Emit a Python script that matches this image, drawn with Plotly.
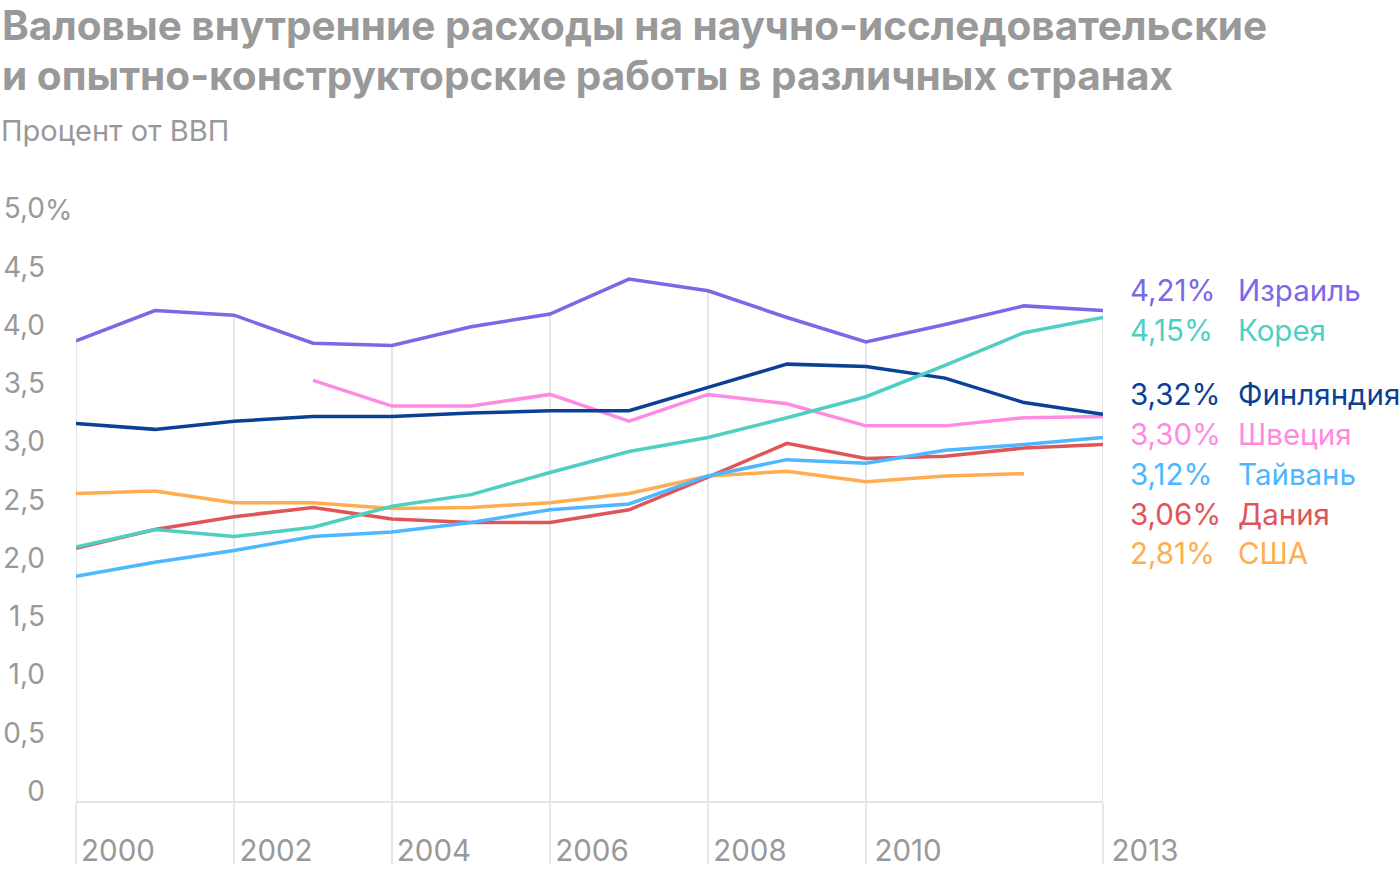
import plotly.graph_objects as go

years = list(range(2000, 2014))

israel = [3.95, 4.21, 4.17, 3.93, 3.91, 4.07, 4.18, 4.48, 4.38, 4.15, 3.94, 4.09, 4.25, 4.21]
korea = [2.18, 2.33, 2.27, 2.35, 2.53, 2.63, 2.82, 3.00, 3.12, 3.29, 3.47, 3.74, 4.02, 4.15]
finland = [3.24, 3.19, 3.26, 3.30, 3.30, 3.33, 3.35, 3.35, 3.55, 3.75, 3.73, 3.63, 3.42, 3.32]
sweden = [None, None, None, 3.61, 3.39, 3.39, 3.49, 3.26, 3.49, 3.41, 3.22, 3.22, 3.29, 3.30]
taiwan = [1.93, 2.05, 2.15, 2.27, 2.31, 2.39, 2.50, 2.55, 2.79, 2.93, 2.90, 3.01, 3.06, 3.12]
denmark = [2.17, 2.33, 2.44, 2.52, 2.42, 2.39, 2.39, 2.50, 2.78, 3.07, 2.94, 2.96, 3.03, 3.06]
usa = [2.64, 2.66, 2.56, 2.56, 2.51, 2.52, 2.56, 2.64, 2.79, 2.83, 2.74, 2.79, 2.81, None]

names = ["Израиль", "Корея", "Финляндия", "Швеция", "Тайвань", "Дания", "США"]
last_labels = ["4,21%", "4,15%", "3,32%", "3,30%", "3,12%", "3,06%", "2,81%"]
series = [israel, korea, finland, sweden, taiwan, denmark, usa]
colors = ["#7B68E6", "#4FCFC3", "#0A4195", "#FF8AE1", "#4DB7FF", "#E05558", "#FFAD4F"]

x_tickvals = [2000, 2002, 2004, 2006, 2008, 2010, 2013]
y_tickvals = [0, 0.5, 1, 1.5, 2, 2.5, 3, 3.5, 4, 4.5, 5]
y_ticktext = ["0", "0,5", "1,0", "1,5", "2,0", "2,5", "3,0", "3,5", "4,0", "4,5", "5,0"]

title_lines = ["Валовые внутренние расходы на научно-исследовательские",
               "и опытно-конструкторские работы в различных странах"]
subtitle = "Процент от ВВП"

# label rows (pixel centres in the figure)
label_rows = [290, 330, 394, 434, 474, 514, 553]

W, H = 1400, 872
ML, MR, MT, MB = 76, 297, 195, 71
PW, PH = W - ML - MR, H - MT - MB
ymax = PH / 116.5

GRAY = "#999999"
FONT = "Inter"


def px(x):
    return (x - ML) / PW


def py(y):
    return (H - MB - y) / PH


fig = go.Figure()

draw_order = [6, 5, 4, 3, 2, 1, 0]
for i in draw_order:
    fig.add_trace(go.Scatter(
        x=years, y=series[i], mode="lines", name=names[i],
        line=dict(color=colors[i], width=3.5),
        connectgaps=False, hoverinfo="skip",
    ))

# vertical gridlines from the baseline up to the top-most line
for xv in x_tickvals:
    idx = years.index(xv)
    top = max(s[idx] for s in series if s[idx] is not None)
    fig.add_shape(type="line", xref="x", yref="y", x0=xv, x1=xv, y0=0, y1=top,
                  line=dict(color="#e6e6e6", width=2), layer="below")

annotations = []
for i in range(len(names)):
    annotations.append(dict(xref="paper", yref="paper", x=px(1128), y=py(label_rows[i]),
                            xanchor="left", yanchor="middle", showarrow=False,
                            text=last_labels[i], font=dict(family=FONT, size=29.5, color=colors[i])))
    annotations.append(dict(xref="paper", yref="paper", x=px(1236), y=py(label_rows[i]),
                            xanchor="left", yanchor="middle", showarrow=False,
                            text=names[i], font=dict(family=FONT, size=29.5, color=colors[i])))

annotations.append(dict(xref="paper", yref="y", x=px(43), y=5, yshift=9,
                        xanchor="left", yanchor="middle", showarrow=False, text="%",
                        font=dict(family=FONT, size=28, color=GRAY)))

for k, line in enumerate(title_lines):
    annotations.append(dict(xref="paper", yref="paper", x=px(0), y=py(25 + 50 * k),
                            xanchor="left", yanchor="middle", showarrow=False,
                            text="<b>" + line + "</b>",
                            font=dict(family=FONT, size=40.5, color=GRAY)))

annotations.append(dict(xref="paper", yref="paper", x=px(-1), y=py(130),
                        xanchor="left", yanchor="middle", showarrow=False,
                        text=subtitle, font=dict(family=FONT, size=29, color=GRAY)))

fig.update_layout(
    width=W, height=H,
    margin=dict(l=ML, r=MR, t=MT, b=MB, autoexpand=False),
    paper_bgcolor="white", plot_bgcolor="white",
    showlegend=False,
    annotations=annotations,
    xaxis=dict(
        range=[2000, 2013], showgrid=False, zeroline=False, automargin=False,
        showline=True, linecolor="#e6e6e6", linewidth=2,
        tickvals=x_tickvals, ticktext=[str(v) for v in x_tickvals],
        ticks="outside", ticklen=61, tickcolor="#e6e6e6", tickwidth=2,
        ticklabelshift=42, ticklabelstandoff=-38,
        tickfont=dict(family=FONT, size=29.5, color=GRAY),
        fixedrange=True,
    ),
    yaxis=dict(
        range=[0, ymax], showgrid=False, showline=False, zeroline=False, automargin=False,
        tickvals=y_tickvals, ticktext=y_ticktext, ticks="",
        ticklabelshift=-10, ticklabelstandoff=30,
        tickfont=dict(family=FONT, size=28, color=GRAY),
        fixedrange=True,
    ),
)

fig.write_html("out.html", config={"displayModeBar": False},
               post_script="document.body.style.margin='0';document.body.style.padding='0';")
